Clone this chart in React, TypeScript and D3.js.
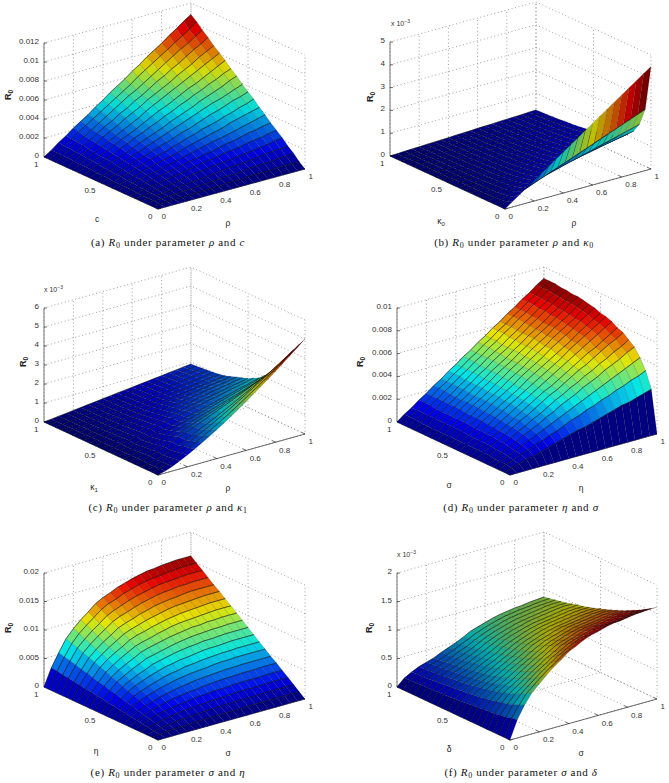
import React from "react";
import * as d3 from "d3";

// surface heights, rows run along the y axis, columns along the x axis (21 x 21)
// panel (a) in units of 1e-4
const surfaceA = [
  [0,0,0,0,0,0,0,0,0,0,0,0,0,0,0,0,0,0,0,0,0],
  [0,0,1,1,1,1,2,2,2,2,3,3,3,4,4,4,4,5,5,5,5],
  [0,1,1,2,2,3,3,4,4,5,5,6,6,7,8,8,9,9,10,10,11],
  [0,1,2,2,3,4,5,6,6,7,8,9,10,11,11,12,13,14,15,15,16],
  [0,1,2,3,4,5,6,8,9,10,11,12,13,14,15,16,17,18,19,21,22],
  [0,1,3,4,5,7,8,9,11,12,14,15,16,18,19,20,22,23,24,26,27],
  [0,2,3,5,6,8,10,11,13,15,16,18,19,21,23,24,26,28,29,31,32],
  [0,2,4,6,8,9,11,13,15,17,19,21,23,25,26,28,30,32,34,36,38],
  [0,2,4,6,9,11,13,15,17,19,22,24,26,28,30,32,35,37,39,41,43],
  [0,2,5,7,10,12,15,17,19,22,24,27,29,32,34,36,39,41,44,46,49],
  [0,3,5,8,11,14,16,19,22,24,27,30,32,35,38,41,43,46,49,51,54],
  [0,3,6,9,12,15,18,21,24,27,30,33,36,39,42,45,48,50,53,56,59],
  [0,3,6,10,13,16,19,23,26,29,32,36,39,42,45,49,52,55,58,62,65],
  [0,4,7,11,14,18,21,25,28,32,35,39,42,46,49,53,56,60,63,67,70],
  [0,4,8,11,15,19,23,26,30,34,38,42,45,49,53,57,60,64,68,72,76],
  [0,4,8,12,16,20,24,28,32,36,41,45,49,53,57,61,65,69,73,77,81],
  [0,4,9,13,17,22,26,30,35,39,43,48,52,56,60,65,69,73,78,82,86],
  [0,5,9,14,18,23,28,32,37,41,46,50,55,60,64,69,73,78,83,87,92],
  [0,5,10,15,19,24,29,34,39,44,49,53,58,63,68,73,78,83,87,92,97],
  [0,5,10,15,21,26,31,36,41,46,51,56,62,67,72,77,82,87,92,97,103],
  [0,5,11,16,22,27,32,38,43,49,54,59,65,70,76,81,86,92,97,103,108],
];

// panel (b) in units of 1e-5
const surfaceB = [
  [0,23,45,68,90,113,135,158,180,203,225,248,270,293,315,338,360,383,405,428,450],
  [0,13,25,38,50,63,75,88,100,113,125,138,150,163,175,188,200,213,225,238,250],
  [0,9,17,26,35,43,52,61,69,78,87,95,104,112,121,130,138,147,156,164,173],
  [0,7,13,20,26,33,40,46,53,59,66,73,79,86,92,99,106,112,119,125,132],
  [0,5,11,16,21,27,32,37,43,48,54,59,64,70,75,80,86,91,96,102,107],
  [0,5,9,14,18,23,27,32,36,41,45,50,54,59,63,68,72,77,81,86,90],
  [0,4,8,12,16,20,23,27,31,35,39,43,47,51,55,59,62,66,70,74,78],
  [0,3,7,10,14,17,20,24,27,31,34,37,41,44,48,51,54,58,61,65,68],
  [0,3,6,9,12,15,18,21,24,27,31,34,37,40,43,46,49,52,55,58,61],
  [0,3,6,8,11,14,17,19,22,25,28,30,33,36,39,41,44,47,50,52,55],
  [0,3,5,8,10,13,15,18,20,23,25,28,30,33,35,38,40,43,45,48,50],
  [0,2,5,7,9,12,14,16,18,21,23,25,28,30,32,35,37,39,41,44,46],
  [0,2,4,6,8,11,13,15,17,19,21,23,25,27,29,32,34,36,38,40,42],
  [0,2,4,6,8,10,12,14,16,18,20,21,23,25,27,29,31,33,35,37,39],
  [0,2,4,6,7,9,11,13,15,17,19,20,22,24,26,28,30,31,33,35,37],
  [0,2,4,5,7,9,11,12,14,16,18,19,21,23,25,26,28,30,32,33,35],
  [0,2,3,5,6,8,10,11,13,14,16,18,19,21,22,24,26,27,29,30,32],
  [0,2,3,5,6,8,9,11,12,14,16,17,19,20,22,23,25,26,28,29,31],
  [0,1,3,4,6,7,9,10,12,13,15,16,17,19,20,22,23,25,26,28,29],
  [0,1,3,4,6,7,8,10,11,13,14,15,17,18,20,21,22,24,25,27,28],
  [0,1,3,4,5,7,8,9,10,12,13,14,16,17,18,20,21,22,23,25,26],
];

// panel (c) in units of 1e-5
const surfaceC = [
  [0,10,25,43,62,83,105,128,152,177,203,230,258,286,315,344,374,405,436,468,500],
  [0,9,23,39,56,76,96,117,139,162,186,210,236,262,288,315,343,371,399,428,458],
  [0,8,21,35,51,69,87,106,126,147,169,191,214,238,262,286,311,337,363,389,416],
  [0,7,18,31,45,61,77,94,112,130,149,169,190,210,232,253,275,298,321,344,368],
  [0,10,22,36,50,64,79,94,110,126,143,159,176,192,210,227,245,262,280,298,316],
  [0,9,19,31,43,56,69,82,96,110,124,138,152,167,182,197,212,227,243,258,274],
  [0,8,17,27,37,48,59,71,83,95,107,119,132,144,157,170,183,197,210,223,237],
  [0,7,15,24,33,43,53,63,74,84,95,106,117,128,140,151,163,175,187,199,211],
  [0,6,13,21,29,37,46,55,64,74,83,93,102,112,122,132,142,153,163,174,184],
  [0,8,17,25,34,42,50,59,67,76,84,92,101,109,118,126,134,143,151,160,168],
  [0,8,15,23,31,38,46,54,61,69,77,84,92,99,107,115,122,130,138,145,153],
  [0,7,14,21,28,36,43,50,57,64,71,78,85,92,99,107,114,121,128,135,142],
  [0,7,13,20,26,33,40,46,53,59,66,73,79,86,92,99,106,112,119,125,132],
  [0,6,12,18,24,30,36,42,48,54,61,67,73,79,85,91,97,103,109,115,121],
  [0,6,11,17,22,28,33,39,44,50,56,61,67,72,78,83,89,94,100,105,111],
  [0,5,11,16,21,26,32,37,42,47,53,58,63,68,74,79,84,89,95,100,105],
  [0,5,10,15,20,25,30,35,40,45,50,55,60,65,70,75,80,85,90,95,100],
  [0,5,10,15,19,24,29,34,39,44,49,53,58,63,68,73,78,82,87,92,97],
  [0,5,10,14,19,24,29,33,38,43,48,52,57,62,67,71,76,81,86,90,95],
  [0,5,9,14,18,23,28,32,37,41,46,51,55,60,64,69,74,78,83,87,92],
  [0,4,9,13,18,22,27,31,36,40,45,49,53,58,62,67,71,76,80,85,89],
];

// panel (d) in units of 1e-4
const surfaceD = [
  [0,0,0,0,0,0,0,0,0,0,0,0,0,0,0,0,0,0,0,0,0],
  [0,2,4,6,7,9,11,13,15,17,19,20,22,24,26,28,30,31,33,35,37],
  [0,3,5,8,10,13,15,18,20,23,26,28,31,33,36,38,41,43,46,48,51],
  [0,3,6,9,12,15,18,21,24,27,30,33,36,39,42,45,48,51,54,57,60],
  [0,3,7,10,13,17,20,23,27,30,34,37,40,44,47,50,54,57,60,64,67],
  [0,4,7,11,14,18,21,25,28,32,36,39,43,46,50,53,57,60,64,67,71],
  [0,4,8,11,15,19,23,26,30,34,38,41,45,49,53,56,60,64,68,71,75],
  [0,4,8,12,15,19,23,27,31,35,39,42,46,50,54,58,62,65,69,73,77],
  [0,4,8,12,16,20,24,28,32,36,40,44,48,52,56,60,64,68,72,76,80],
  [0,4,8,12,16,21,25,29,33,37,41,45,49,53,57,62,66,70,74,78,82],
  [0,4,8,12,17,21,25,29,33,37,42,46,50,54,58,62,66,71,75,79,83],
  [0,4,9,13,17,21,26,30,34,38,43,47,51,55,60,64,68,72,77,81,85],
  [0,4,9,13,17,22,26,30,34,39,43,47,52,56,60,65,69,73,77,82,86],
  [0,4,9,13,17,22,26,30,35,39,44,48,52,57,61,65,70,74,78,83,87],
  [0,4,9,13,18,22,26,31,35,40,44,48,53,57,62,66,70,75,79,84,88],
  [0,4,9,13,18,22,26,31,35,40,44,48,53,57,62,66,70,75,79,84,88],
  [0,4,9,13,18,22,27,31,36,40,45,49,53,58,62,67,71,76,80,85,89],
  [0,4,9,13,18,22,27,31,36,40,45,49,53,58,62,67,71,76,80,85,89],
  [0,5,9,14,18,23,27,32,36,41,45,50,54,59,63,68,72,77,81,86,90],
  [0,5,9,14,18,23,27,32,36,41,45,50,54,59,63,68,72,77,81,86,90],
  [0,5,9,14,18,23,27,32,36,41,45,50,54,59,63,68,72,77,81,86,90],
];

// panel (e) in units of 1e-4
const surfaceE = [
  [0,0,0,0,0,0,0,0,0,0,0,0,0,0,0,0,0,0,0,0,0],
  [0,2,3,4,4,5,6,6,6,7,7,7,7,8,8,8,8,8,8,8,8],
  [0,3,5,7,9,10,11,12,13,13,14,14,15,15,15,15,16,16,16,16,16],
  [0,5,8,11,13,15,17,18,19,20,21,21,22,23,23,23,23,24,24,24,24],
  [0,6,11,15,18,20,22,24,26,27,28,29,29,30,31,31,31,31,32,32,32],
  [0,8,13,19,22,25,28,30,32,33,35,36,37,38,38,39,39,39,40,40,40],
  [0,9,16,22,26,30,33,36,38,40,42,43,44,45,46,46,47,47,47,47,47],
  [0,11,19,26,31,35,39,42,45,47,49,50,51,53,54,54,55,55,55,55,55],
  [0,12,21,30,35,40,44,48,51,53,56,57,59,60,61,62,62,63,63,63,63],
  [0,14,24,33,40,45,50,54,58,60,63,64,66,68,69,69,70,71,71,71,71],
  [0,15,27,37,44,50,55,61,64,67,70,72,74,75,77,77,78,79,79,79,79],
  [0,17,29,41,48,55,61,67,70,73,76,79,81,83,84,85,86,86,87,87,87],
  [0,18,32,44,53,60,66,73,77,80,83,86,88,90,92,92,94,94,95,95,95],
  [0,20,34,48,57,65,72,79,83,86,90,93,96,98,99,100,101,102,103,103,103],
  [0,21,37,52,62,70,77,85,90,93,97,100,103,105,107,108,109,110,111,111,111],
  [0,23,40,56,66,75,83,91,96,100,104,107,110,113,115,116,117,118,119,119,119],
  [0,24,42,59,70,80,88,97,102,106,111,114,118,120,122,123,125,126,126,126,126],
  [0,26,45,63,75,85,94,103,109,113,118,122,125,128,130,131,133,133,134,134,134],
  [0,27,48,67,79,90,99,109,115,120,125,129,132,135,138,139,140,141,142,142,142],
  [0,29,50,70,84,95,105,115,122,126,132,136,140,143,145,146,148,149,150,150,150],
  [0,30,53,74,88,100,110,121,128,133,139,143,147,150,153,154,156,157,158,158,158],
];

// panel (f) in units of 1e-5
const surfaceF = [
  [0,32,54,72,84,96,107,116,126,132,139,144,147,151,154,155,157,159,160,161,161],
  [0,30,49,66,77,88,98,107,117,123,131,136,139,143,147,148,150,152,153,154,154],
  [0,27,46,60,71,81,91,100,109,116,123,129,132,137,140,141,143,145,147,148,148],
  [0,26,42,56,65,75,85,93,102,109,117,122,126,130,134,135,137,140,141,142,142],
  [0,24,40,52,61,70,79,87,96,103,111,116,120,125,128,130,132,134,136,137,137],
  [0,23,37,49,57,65,74,82,90,98,106,111,115,120,123,125,127,129,131,132,132],
  [0,22,35,46,54,61,70,78,86,93,101,106,111,115,118,120,122,124,126,127,127],
  [0,21,33,43,50,58,66,74,81,89,96,102,106,110,114,116,118,120,122,123,123],
  [0,20,31,41,48,55,63,70,77,85,92,98,102,106,110,112,114,116,118,119,119],
  [0,19,30,39,45,52,60,67,74,81,89,94,98,103,106,108,110,112,114,115,115],
  [0,18,28,37,43,49,57,64,71,78,85,90,95,99,102,104,106,109,110,111,112],
  [0,17,27,35,41,47,54,61,68,75,82,87,92,96,99,101,103,105,107,108,108],
  [0,16,26,33,39,45,52,58,65,72,79,84,89,93,96,98,100,102,104,105,105],
  [0,16,25,32,38,43,50,56,62,70,76,81,86,90,93,95,97,99,101,102,102],
  [0,15,24,31,36,41,48,54,60,67,74,79,83,87,90,92,94,96,98,99,100],
  [0,15,23,29,35,40,46,52,58,65,71,76,81,84,88,90,92,94,96,97,97],
  [0,14,22,28,33,38,44,50,56,63,69,74,78,82,85,87,89,91,93,94,94],
  [0,14,21,27,32,37,43,48,54,61,67,72,76,80,83,85,87,89,91,92,92],
  [0,13,20,26,31,35,41,47,52,59,65,70,74,78,81,83,85,87,88,89,90],
  [0,13,20,25,30,34,40,45,51,57,63,68,72,76,79,81,83,84,86,87,88],
  [0,12,19,25,29,33,39,44,49,55,62,66,70,74,77,79,81,82,84,85,86],
];

const xTicks = [0, 0.2, 0.4, 0.6, 0.8, 1];
const yTicks = [0, 0.5, 1];
const zTicksA = ["0", "0.002", "0.004", "0.006", "0.008", "0.01", "0.012"];
const zTicksB = ["0", "1", "2", "3", "4", "5"];
const zTicksC = ["0", "1", "2", "3", "4", "5", "6"];
const zTicksD = ["0", "0.002", "0.004", "0.006", "0.008", "0.01"];
const zTicksE = ["0", "0.005", "0.01", "0.015", "0.02"];
const zTicksF = ["0", "0.5", "1", "1.5", "2"];

const panels = [
  { id: "a", grid: surfaceA, unit: 1e-4, zTicks: zTicksA, zMax: 0.012, mult: false,
    front: [158, 209], left: [44, 157], right: [305, 169],
    xName: "ρ", yName: "c", ySub: "", xLab: [228, 223], yLab: [97, 219], zLab: [8, 95],
    capX: 168, capY: 246, capName: "ρ", capOther: "c", capSub: "", dark: 0.14 },
  { id: "b", grid: surfaceB, unit: 1e-5, zTicks: zTicksB, zMax: 0.005, mult: true, multAt: [391, 23],
    front: [505, 209], left: [390, 156], right: [651, 169],
    xName: "ρ", yName: "κ", ySub: "0", xLab: [574, 223], yLab: [441, 221], zLab: [370, 97],
    capX: 514, capY: 246, capName: "ρ", capOther: "κ", capSub: "0", dark: 0.25 },
  { id: "c", grid: surfaceC, unit: 1e-5, zTicks: zTicksC, zMax: 0.006, mult: true, multAt: [44, 289],
    front: [158, 475], left: [44, 422], right: [305, 434],
    xName: "ρ", yName: "κ", ySub: "1", xLab: [228, 488], yLab: [94, 487], zLab: [23, 362],
    capX: 168, capY: 511, capName: "ρ", capOther: "κ", capSub: "1", dark: 0.28 },
  { id: "d", grid: surfaceD, unit: 1e-4, zTicks: zTicksD, zMax: 0.01, mult: false,
    front: [510, 475], left: [397, 422], right: [657, 434],
    xName: "η", yName: "σ", ySub: "", xLab: [581, 488], yLab: [449, 485], zLab: [360, 362],
    capX: 521, capY: 511, capName: "η", capOther: "σ", capSub: "", dark: 0.1 },
  { id: "e", grid: surfaceE, unit: 1e-4, zTicks: zTicksE, zMax: 0.02, mult: false,
    front: [158, 740], left: [44, 687], right: [305, 699],
    xName: "σ", yName: "η", ySub: "", xLab: [228, 753], yLab: [96, 751], zLab: [8, 628],
    capX: 168, capY: 776, capName: "σ", capOther: "η", capSub: "", dark: 0.1 },
  { id: "f", grid: surfaceF, unit: 1e-5, zTicks: zTicksF, zMax: 0.002, mult: true, multAt: [397, 554],
    front: [510, 740], left: [397, 687], right: [657, 699],
    xName: "σ", yName: "δ", ySub: "", xLab: [581, 753], yLab: [449, 749], zLab: [369, 628],
    capX: 521, capY: 776, capName: "σ", capOther: "δ", capSub: "", dark: 0.33 },
];

const boxHeight = 114;
const sans = "'Liberation Sans', Arial, sans-serif";
const serif = "'Liberation Serif', serif";

// matlab jet
const jet = d3
  .scaleLinear<string>()
  .domain([0, 0.125, 0.375, 0.625, 0.875, 1])
  .range(["#00008f", "#0000ff", "#00ffff", "#ffff00", "#ff0000", "#800000"]);

const Panel = ({ p }: { p: any }) => {
  const xPos = d3.scaleLinear().domain([0, 1]).range([0, 1]);
  const yPos = d3.scaleLinear().domain([0, 1]).range([0, 1]);
  const zPos = d3.scaleLinear().domain([0, p.zMax]).range([0, boxHeight]);

  const project = (x: number, y: number, z: number): [number, number] => [
    p.front[0] + xPos(x) * (p.right[0] - p.front[0]) + yPos(y) * (p.left[0] - p.front[0]),
    p.front[1] + xPos(x) * (p.right[1] - p.front[1]) + yPos(y) * (p.left[1] - p.front[1]) - zPos(z),
  ];
  const line = d3.line();

  const rows = p.grid.length;
  const cols = p.grid[0].length;
  const gridX = d3.scaleLinear().domain([0, cols - 1]).range([0, 1]);
  const gridY = d3.scaleLinear().domain([0, rows - 1]).range([0, 1]);
  const top = d3.max(p.grid.flat() as number[]) as number;
  const colorOf = (v: number) => d3.interpolateRgb(jet(v / top), "#000")(p.dark);
  const pt = (i: number, j: number) => project(gridX(i), gridY(j), p.grid[j][i] * p.unit);

  // far cells first so the nearer ones paint over them
  const cells: { d: string; edge: string; fill: string; key: string }[] = [];
  for (let j = rows - 2; j >= 0; j--) {
    for (let i = cols - 2; i >= 0; i--) {
      cells.push({
        key: `${i}-${j}`,
        d: line([pt(i, j), pt(i + 1, j), pt(i + 1, j + 1), pt(i, j + 1)]) + "Z",
        edge: line([pt(i, j + 1), pt(i + 1, j + 1)]) as string,
        fill: colorOf((p.grid[j][i] + p.grid[j][i + 1]) / 2),
      });
    }
  }

  const zValues = p.zTicks.map((_: string, k: number) => (k * p.zMax) / (p.zTicks.length - 1));
  const dotted = { fill: "none", stroke: "#777", strokeWidth: 0.7, strokeDasharray: "1 2.6" };

  return (
    <g className="panel">
      {/* floor grid and the two back walls */}
      {xTicks.map((t) => (
        <g key={t}>
          <path {...dotted} d={line([project(t, 0, 0), project(t, 1, 0), project(t, 1, p.zMax)]) as string} />
        </g>
      ))}
      {yTicks.map((t) => (
        <g key={t}>
          <path {...dotted} d={line([project(0, t, 0), project(1, t, 0), project(1, t, p.zMax)]) as string} />
        </g>
      ))}
      {zValues.map((z: number) => (
        <path key={z} {...dotted} d={line([project(0, 1, z), project(1, 1, z), project(1, 0, z)]) as string} />
      ))}

      {/* axes */}
      <path d={line([project(0, 1, 0), project(0, 1, p.zMax)]) as string} stroke="#777" strokeWidth={1} fill="none" />
      <path d={line([project(0, 1, 0), project(0, 0, 0), project(1, 0, 0)]) as string} stroke="#444" strokeWidth={0.8} fill="none" />
      {zValues.map((z: number, k: number) => {
        const [x, y] = project(0, 1, z);
        return (
          <g key={z}>
            <line x1={x} x2={x + 3} y1={y} y2={y} stroke="#333" strokeWidth={0.7} />
            <text x={x - 5} y={y + 1} textAnchor="end" fontFamily={sans} fontSize={8} fill="#333">
              {p.zTicks[k]}
            </text>
          </g>
        );
      })}
      {xTicks.map((t) => {
        const [x, y] = project(t, 0, 0);
        const [x2, y2] = project(t, 0.03, 0);
        return (
          <g key={t}>
            <line x1={x} x2={x2} y1={y} y2={y2} stroke="#333" strokeWidth={0.7} />
            <text x={x + 3.5} y={y + 10.3} fontFamily={sans} fontSize={8} fill="#333">
              {t}
            </text>
          </g>
        );
      })}
      {yTicks.map((t) => {
        const [x, y] = project(0, t, 0);
        const [x2, y2] = project(0.02, t, 0);
        return (
          <g key={t}>
            <line x1={x} x2={x2} y1={y} y2={y2} stroke="#333" strokeWidth={0.7} />
            <text x={x - 5.5} y={y + 9.6} textAnchor="end" fontFamily={sans} fontSize={8} fill="#333">
              {t}
            </text>
          </g>
        );
      })}

      {/* surface: the rows carry the strong mesh lines, the columns stay faint */}
      {cells.map((c) => (
        <g key={c.key}>
          <path d={c.d} fill={c.fill} stroke="#000" strokeWidth={0.3} strokeOpacity={0.45} />
          <path d={c.edge} fill="none" stroke="#000" strokeWidth={0.6} strokeOpacity={0.85} />
        </g>
      ))}

      {/* labels */}
      <text x={p.xLab[0]} y={p.xLab[1] + 3} textAnchor="middle" fontFamily={sans} fontSize={8.5} fill="#222">
        {p.xName}
      </text>
      <text x={p.yLab[0]} y={p.yLab[1] + 3} textAnchor="middle" fontFamily={sans} fontSize={8.5} fill="#222">
        {p.yName}
        {p.ySub && (
          <tspan dy={2} fontSize={6}>
            {p.ySub}
          </tspan>
        )}
      </text>
      <text
        transform={`translate(${p.zLab[0] + 3},${p.zLab[1]}) rotate(-90)`}
        textAnchor="middle"
        fontFamily={sans}
        fontSize={9}
        fontWeight="bold"
        fill="#222"
      >
        R
        <tspan dy={2} fontSize={6.5}>
          0
        </tspan>
      </text>
      {p.mult && (
        <text x={p.multAt[0]} y={p.multAt[1] + 3} fontFamily={sans} fontSize={7} fill="#333">
          x 10
          <tspan dy={-3} fontSize={5}>
            −3
          </tspan>
        </text>
      )}

      {/* caption */}
      <text x={p.capX} y={p.capY} textAnchor="middle" fontFamily={serif} fontSize={11} letterSpacing={0.65} fill="#111">
        ({p.id}){" "}
        <tspan fontStyle="italic">R</tspan>
        <tspan dy={1.5} fontSize={8}>
          0
        </tspan>
        <tspan dy={-1.5}> under parameter </tspan>
        <tspan fontStyle="italic">{p.capName}</tspan> and <tspan fontStyle="italic">{p.capOther}</tspan>
        {p.capSub && (
          <tspan dy={1.5} fontSize={8}>
            {p.capSub}
          </tspan>
        )}
      </text>
    </g>
  );
};

const App = () => (
  <svg
    width={669}
    height={783}
    style={{ position: "absolute", left: 0, top: 0, background: "#fff" }}
  >
    {panels.map((p) => (
      <Panel key={p.id} p={p} />
    ))}
  </svg>
);

export default App;
